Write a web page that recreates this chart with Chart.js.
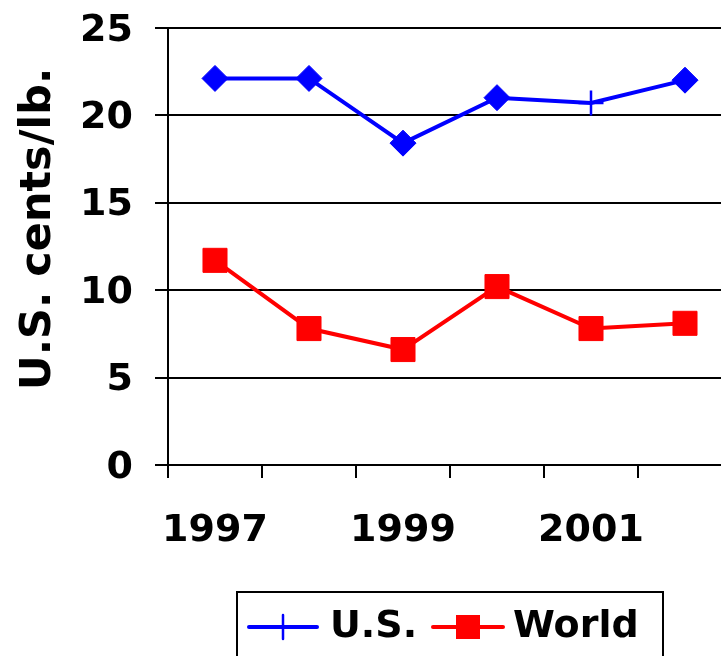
<!DOCTYPE html>
<html>
<head>
<meta charset="utf-8">
<script src="https://cdn.jsdelivr.net/npm/chart.js@4.4.0/dist/chart.umd.min.js"></script>
<style>
html, body { margin: 0; padding: 0; background: #fff; overflow: hidden; }
#wrap { width: 750px; height: 656px; }
</style>
</head>
<body>
<div id="wrap"><canvas id="myChart" width="750" height="656"></canvas></div>
<script>
var years = ['1997', '1998', '1999', '2000', '2001', '2002'];
var usPrices = [22.1, 22.1, 18.4, 21.0, 20.7, 22.0];
var worldPrices = [11.7, 7.8, 6.6, 10.2, 7.8, 8.1];
var usMarkers = ['rectRot', 'rectRot', 'rectRot', 'rectRot', 'cross', 'rectRot'];
var seriesNames = ['U.S.', 'World'];
var yTitle = 'U.S. cents/lb.';

var FONT = { family: '"DejaVu Sans", Verdana, sans-serif', size: 38, weight: 'bold' };

// y title drawn by hand so it sits where the excel one does
var yTitlePlugin = {
  id: 'yTitle',
  afterDraw: function(chart) {
    var ctx = chart.ctx;
    ctx.save();
    ctx.translate(39, 229);
    ctx.rotate(-Math.PI / 2);
    ctx.font = 'bold 43px "DejaVu Sans", Verdana, sans-serif';
    ctx.fillStyle = '#000';
    ctx.textAlign = 'center';
    ctx.textBaseline = 'middle';
    ctx.fillText(yTitle, 0, 0);
    ctx.restore();
  }
};

// legend like the excel one: line + marker + label, in a box
var legendBox = {
  id: 'legendBox',
  afterDraw: function(chart) {
    var ctx = chart.ctx;
    ctx.save();
    ctx.strokeStyle = '#000';
    ctx.lineWidth = 2;
    ctx.strokeRect(237, 592, 426, 80);
    ctx.font = 'bold 38px "DejaVu Sans", Verdana, sans-serif';
    ctx.textBaseline = 'middle';
    ctx.fillStyle = '#000';
    var y = 627;
    var items = [
      { x0: 249, x1: 317, text: 330, style: 'cross' },
      { x0: 433, x1: 503, text: 513, style: 'rect' }
    ];
    chart.data.datasets.forEach(function(ds, i) {
      var it = items[i];
      var mid = (it.x0 + it.x1) / 2;
      ctx.strokeStyle = ds.borderColor;
      ctx.lineWidth = 4;
      ctx.lineCap = 'round';
      ctx.beginPath();
      ctx.moveTo(it.x0, y);
      ctx.lineTo(it.x1, y);
      ctx.stroke();
      if (it.style === 'cross') {
        ctx.lineWidth = 2.5;
        ctx.beginPath();
        ctx.moveTo(mid, y - 12);
        ctx.lineTo(mid, y + 12);
        ctx.stroke();
      } else {
        ctx.fillStyle = ds.backgroundColor;
        ctx.fillRect(mid - 12, y - 12, 24, 24);
      }
      ctx.fillStyle = '#000';
      ctx.fillText(ds.label, it.text, y);
    });
    ctx.restore();
  }
};

var ctx = document.getElementById('myChart');
var myChart = new Chart(ctx, {
  type: 'line',
  data: {
    labels: years,
    datasets: [{
      label: seriesNames[0],
      data: usPrices,
      borderColor: '#0000ff',
      backgroundColor: '#0000ff',
      borderWidth: 4,
      tension: 0,
      pointStyle: usMarkers,
      pointRadius: [13, 13, 13, 13, 12.5, 13],
      pointBackgroundColor: '#0000ff',
      pointBorderColor: '#0000ff',
      pointBorderWidth: [1, 1, 1, 1, 2.5, 1],
      clip: false
    }, {
      label: seriesNames[1],
      data: worldPrices,
      borderColor: '#ff0000',
      backgroundColor: '#ff0000',
      borderWidth: 4,
      tension: 0,
      pointStyle: 'rect',
      pointRadius: 17,
      pointBackgroundColor: '#ff0000',
      pointBorderColor: '#ff0000',
      pointBorderWidth: 1,
      clip: false
    }]
  },
  options: {
    responsive: false,
    animation: false,
    devicePixelRatio: 1,
    layout: { padding: 0 },
    plugins: {
      legend: { display: false },
      tooltip: { enabled: false }
    },
    scales: {
      x: {
        offset: true,
        grid: { offset: true, drawOnChartArea: false, tickLength: 13, color: '#000', lineWidth: 2 },
        border: { color: '#000', width: 2 },
        ticks: {
          font: FONT,
          color: '#000',
          padding: 30,
          maxRotation: 0,
          autoSkip: false,
          callback: function(v, i) { return i % 2 === 0 ? years[i] : ''; }
        },
        afterFit: function(s) { s.height = 191; }
      },
      y: {
        min: 0,
        max: 25,
        ticks: {
          stepSize: 5,
          font: { family: FONT.family, size: FONT.size, weight: FONT.weight, lineHeight: 0.3 },
          color: '#000',
          padding: 22,
          labelOffset: 3
        },
        grid: { color: '#000', lineWidth: 2, tickLength: 13 },
        border: { color: '#000', width: 2 },
        afterFit: function(s) { s.width = 168; }
      }
    }
  },
  plugins: [yTitlePlugin, legendBox]
});
</script>
</body>
</html>
